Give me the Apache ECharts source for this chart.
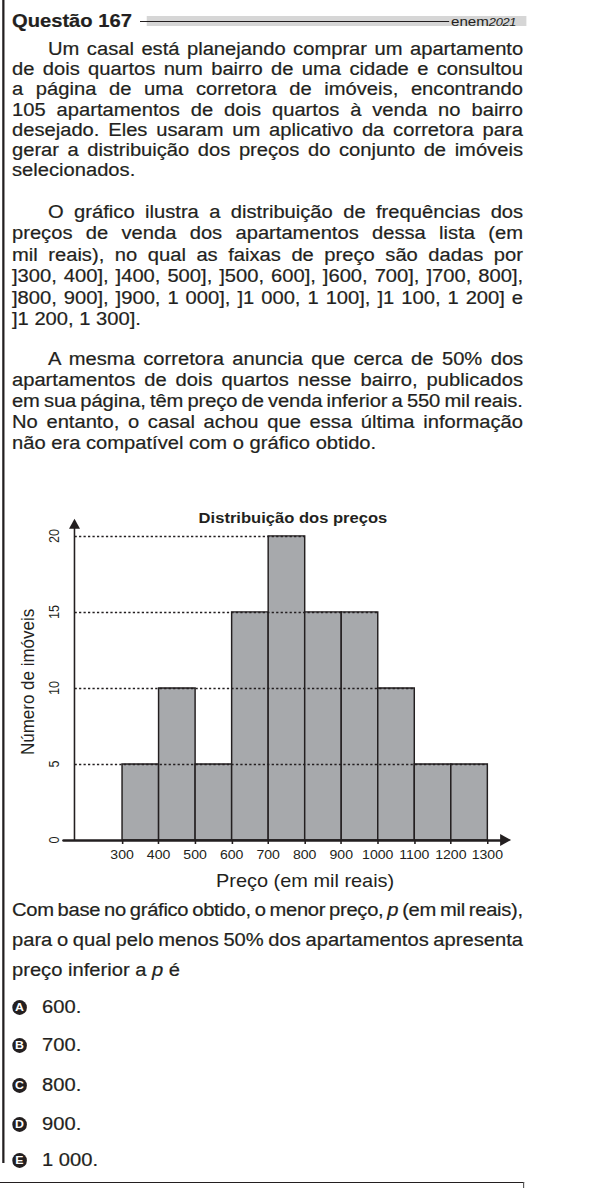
<!DOCTYPE html>
<html>
<head>
<meta charset="utf-8">
<script src="https://cdn.jsdelivr.net/npm/echarts@6/dist/echarts.min.js"></script>
<style>
  html, body { margin: 0; padding: 0; background: #fff; }
  body { width: 591px; height: 1188px; overflow: hidden; position: relative; }
  /* the scan is stretched sideways, so the whole page is drawn narrow and scaled */
  #page { position: absolute; left: 0; top: 0; width: 528px; height: 1188px;
          transform: scaleX(1.12); transform-origin: 0 0;
          font-family: "Liberation Sans", Arial, sans-serif; color: #231f20; }
  .ln { position: absolute; left: 10.7px; width: 456.3px; height: 20px; line-height: 20px;
        font-size: 18px; white-space: nowrap; -webkit-text-stroke: 0.2px #231f20; }
  .ind { left: 42.9px; width: 424.1px; }
  .opt { position: absolute; left: 0; width: 200px; height: 20px; line-height: 20px; font-size: 18px;
         white-space: nowrap; -webkit-text-stroke: 0.2px #231f20; }
  .opt .dot { position: absolute; display: block; left: 10.6px; top: 2.5px; width: 13.4px; height: 15px;
              border-radius: 50%; background: #231f20; color: #fff; -webkit-text-stroke: 0;
              font-size: 11px; font-weight: bold; line-height: 15px; text-align: center; }
  .opt .txt { position: absolute; display: block; left: 37.5px; top: 0; }
  #chart { position: absolute; left: 0; top: 490px; width: 528px; height: 420px; }
</style>
</head>
<body>
<div id="page">
  <div style="position:absolute;left:1.8px;top:0;width:1.8px;height:1163px;background:#231f20"></div>

  <div class="ln" style="top:10.5px;font-weight:bold">Questão 167</div>
  <div style="position:absolute;left:131.3px;top:16px;width:339px;height:10px;background:#d6d6d6"></div>
  <div style="position:absolute;left:125px;top:20.5px;width:276px;height:1px;background:#231f20"></div>
  <div style="position:absolute;left:402.7px;top:11px;height:20px;line-height:20px;white-space:nowrap">
    <span style="font-size:13.5px">enem</span><span style="font-size:11.5px;font-style:italic;letter-spacing:-0.3px">2021</span>
  </div>

  <div class="ln ind j" style="top:39px">Um casal está planejando comprar um apartamento</div>
  <div class="ln j" style="top:59px">de dois quartos num bairro de uma cidade e consultou</div>
  <div class="ln j" style="top:79px">a página de uma corretora de imóveis, encontrando</div>
  <div class="ln j" style="top:100px">105 apartamentos de dois quartos à venda no bairro</div>
  <div class="ln j" style="top:120px">desejado. Eles usaram um aplicativo da corretora para</div>
  <div class="ln j" style="top:140px">gerar a distribuição dos preços do conjunto de imóveis</div>
  <div class="ln" style="top:160px">selecionados.</div>

  <div class="ln ind j" style="top:202px">O gráfico ilustra a distribuição de frequências dos</div>
  <div class="ln j" style="top:223.4px">preços de venda dos apartamentos dessa lista (em</div>
  <div class="ln j" style="top:244.8px">mil reais), no qual as faixas de preço são dadas por</div>
  <div class="ln j" style="top:266.2px">]300, 400], ]400, 500], ]500, 600], ]600, 700], ]700, 800],</div>
  <div class="ln j" style="top:287.6px">]800, 900], ]900, 1 000], ]1 000, 1 100], ]1 100, 1 200] e</div>
  <div class="ln" style="top:309px">]1 200, 1 300].</div>

  <div class="ln ind j" style="top:348.5px">A mesma corretora anuncia que cerca de 50% dos</div>
  <div class="ln j" style="top:369.5px">apartamentos de dois quartos nesse bairro, publicados</div>
  <div class="ln j" style="top:390.5px">em sua página, têm preço de venda inferior a 550 mil reais.</div>
  <div class="ln j" style="top:411.5px">No entanto, o casal achou que essa última informação</div>
  <div class="ln" style="top:432.5px">não era compatível com o gráfico obtido.</div>

  <div id="chart"></div>

  <div class="ln j" style="top:900px">Com base no gráfico obtido, o menor preço, <i>p</i> (em mil reais),</div>
  <div class="ln j" style="top:930px">para o qual pelo menos 50% dos apartamentos apresenta</div>
  <div class="ln" style="top:960px">preço inferior a <i>p</i> é</div>

  <div class="opt" style="top:997px"><span class="dot">A</span><span class="txt">600.</span></div>
  <div class="opt" style="top:1035px"><span class="dot">B</span><span class="txt">700.</span></div>
  <div class="opt" style="top:1075px"><span class="dot">C</span><span class="txt">800.</span></div>
  <div class="opt" style="top:1114px"><span class="dot">D</span><span class="txt">900.</span></div>
  <div class="opt" style="top:1150px"><span class="dot">E</span><span class="txt">1 000.</span></div>

  <div style="position:absolute;left:0;top:1181.5px;width:468px;height:1.5px;background:#231f20"></div>
  <div style="position:absolute;left:467px;top:1181.5px;width:1px;height:7px;background:#555"></div>
</div>

<script>
// histogram data
var binStarts = [300, 400, 500, 600, 700, 800, 900, 1000, 1100, 1200];
var binWidth = 100;
var counts = [5, 10, 5, 15, 20, 15, 15, 10, 5, 5];
var xTicks = [300, 400, 500, 600, 700, 800, 900, 1000, 1100, 1200, 1300];
var yTicks = [0, 5, 10, 15, 20];
var gridLevels = [5, 10, 15, 20];

var xMin = 140, xMax = 1350, yAxisAt = 170;
var S = 1.12; // sideways stretch of the page
var ink = '#231f20';

// squeeze or stretch each justified line to the column width
function fitLines() {
  var lines = document.querySelectorAll('.j');
  for (var i = 0; i < lines.length; i++) {
    var el = lines[i];
    var span = document.createElement('span');
    while (el.firstChild) span.appendChild(el.firstChild);
    el.appendChild(span);
    var target = el.clientWidth;
    var w = span.offsetWidth;
    var spaces = span.textContent.split(' ').length - 1;
    var ws = (target - w) / spaces;
    if (ws < -1.2) ws = -1.2;
    el.style.wordSpacing = ws + 'px';
    w = span.offsetWidth;
    if (w > target + 0.2) {
      el.style.letterSpacing = ((target - w) / span.textContent.length) + 'px';
    }
  }
}
fitLines();

// last bin edge that still reaches a given level
function lastEdge(level) {
  var edge = yAxisAt;
  for (var i = 0; i < counts.length; i++) {
    if (counts[i] >= level) edge = binStarts[i] + binWidth;
  }
  return edge;
}

var myChart = echarts.init(document.getElementById('chart'), null, { renderer: 'svg' });
myChart.setOption({
  animation: false,
  title: {
    text: 'Distribuição dos preços',
    left: 193 / S,
    top: 15,
    textStyle: { fontSize: 14.8, fontWeight: 'bold', color: ink, fontFamily: 'Liberation Sans' }
  },
  grid: { left: 63.6 / S, right: 85.75 / S, top: 33.8, bottom: 70 },
  xAxis: {
    type: 'value',
    min: xMin,
    max: xMax,
    z: 5,
    axisLine: {
      symbol: ['none', 'triangle'],
      symbolSize: [12, 11 / S],
      lineStyle: { color: ink, width: 2.5 }
    },
    axisTick: { show: true, customValues: xTicks, length: 4, lineStyle: { color: ink, width: 1.4 } },
    axisLabel: {
      customValues: xTicks,
      fontSize: 12.6,
      margin: 8,
      color: ink,
      fontFamily: 'Liberation Sans',
      formatter: function (v) { return String(v); }
    },
    splitLine: { show: false },
    name: 'Preço (em mil reais)',
    nameLocation: 'middle',
    nameGap: 32,
    nameTextStyle: { fontSize: 17.8, color: ink, fontFamily: 'Liberation Sans', padding: [0, 0, 0, 41 / S] }
  },
  yAxis: {
    type: 'value',
    min: 0,
    max: 20.8,
    offset: -10.9 / S,
    z: 5,
    axisLine: {
      show: true,
      symbol: ['none', 'triangle'],
      symbolSize: [11 / S, 10],
      lineStyle: { color: ink, width: 1.4 }
    },
    axisTick: { show: false },
    axisLabel: {
      customValues: yTicks,
      rotate: 90,
      fontSize: 12.6,
      margin: 12,
      color: ink,
      fontFamily: 'Liberation Sans'
    },
    splitLine: { show: false },
    name: 'Número de imóveis',
    nameLocation: 'middle',
    nameGap: 28,
    nameTextStyle: { fontSize: 17, color: ink, fontFamily: 'Liberation Sans' }
  },
  series: [{
    type: 'custom',
    data: binStarts.map(function (s, i) { return [s, s + binWidth, counts[i]]; }),
    encode: { x: [0, 1], y: 2 },
    renderItem: function (params, api) {
      var p0 = api.coord([api.value(0), api.value(2)]);
      var p1 = api.coord([api.value(1), 0]);
      return {
        type: 'rect',
        shape: { x: p0[0], y: p0[1], width: p1[0] - p0[0], height: p1[1] - p0[1] },
        style: { fill: '#a7a9ac', stroke: ink, lineWidth: 1.3 }
      };
    },
    markLine: {
      silent: true,
      symbol: 'none',
      animation: false,
      label: { show: false },
      lineStyle: { color: ink, type: [2, 2], width: 1.3 },
      data: gridLevels.map(function (l) {
        return [{ coord: [yAxisAt, l] }, { coord: [lastEdge(l), l] }];
      })
    }
  }]
});
</script>
</body>
</html>
